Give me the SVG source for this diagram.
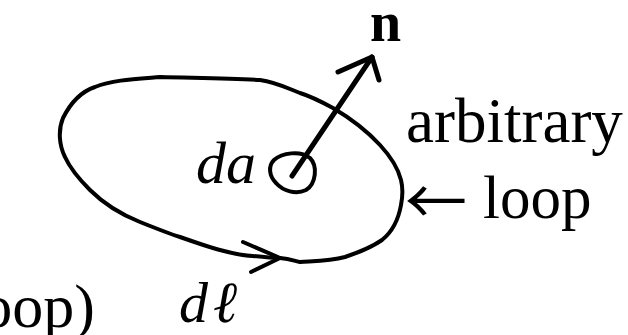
<svg xmlns="http://www.w3.org/2000/svg" width="628" height="335" viewBox="0 0 628 335">
<style>
.stroke{fill:none;stroke:#000;stroke-linecap:round;stroke-linejoin:round}
.t{font-family:"Liberation Serif","Times New Roman","DejaVu Serif",serif;fill:#000}
.i{font-style:italic}
.arr{font-family:"Noto Sans CJK JP","DejaVu Sans",sans-serif;fill:#000}
</style>
<rect width="628" height="335" fill="#fff"/>
<g id="connectors">
<g id="loop">
<path class="stroke" stroke-width="4" d="M280,258 C290,259 295,261 300,262 C315,261 330,261 345,257 C360,252 372,247 382,240 C392,232 398,222 401,205 C403,195 403,188 401,180 C398,168 392,158 380,145 C368,132 350,118 333,108 C320,101 310,96 300,93 C285,87 275,82 260,80 C230,78 200,78 160,77 C135,79 112,80 95,87 C80,92 70,104 63,118 C58,130 59,145 65,157 C70,168 78,178 90,190 C105,205 120,214 140,222 C160,230 170,234 180,237 C200,244 212,248 220,250 C235,254 245,256 253,256 C262,257 272,258 280,258"/>
<path class="stroke" stroke-width="4" d="M243,242 L280,258 L251,272"/>
</g>
<g id="normal-arrow">
<path class="stroke" stroke-width="5" d="M292,176 L372,57"/>
<path class="stroke" stroke-width="5" d="M338,72 L372,57 L379,80"/>
</g>
</g>
<g id="da-patch">
<path class="stroke" stroke-width="4" d="M274,160 C282,153 300,150 310,158 C318,166 316,184 306,190 C296,195 283,191 276,183 C269,176 268,166 274,160 Z"/>
</g>
<g id="label-n"><text class="t" x="370" y="41" font-size="56" font-weight="bold">n</text></g>
<g id="label-arbitrary"><text class="t" x="406" y="142" font-size="63">arbitrary</text></g>
<g id="label-loop"><text class="t" x="405" y="218" font-size="61"><tspan class="arr" font-size="62" dy="7">←</tspan><tspan x="483" dy="-7">loop</tspan></text></g>
<g id="label-da"><text class="t i" x="196" y="183" font-size="60">da</text></g>
<g id="label-dl"><text class="t i" x="179" y="322" font-size="58">d<tspan dx="5">ℓ</tspan></text></g>
<g id="label-oop"><text class="t" x="95" y="327" font-size="62" text-anchor="end">oop)</text></g>
</svg>
